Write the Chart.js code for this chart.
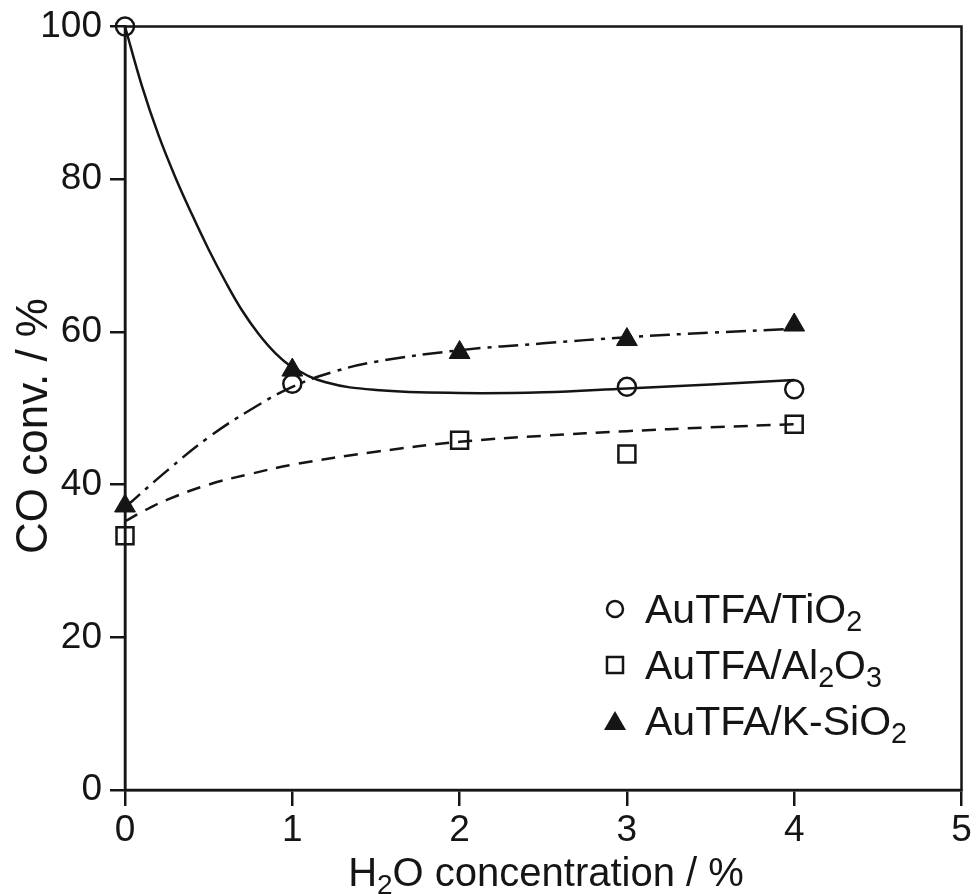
<!DOCTYPE html>
<html>
<head>
<meta charset="utf-8">
<script src="https://cdn.jsdelivr.net/npm/chart.js@4.4.0/dist/chart.umd.min.js"></script>
<style>
  html, body { margin: 0; padding: 0; background: #ffffff; }
  #wrap { width: 976px; height: 894px; }
</style>
</head>
<body>
<div id="wrap"><canvas id="mainChart" width="976" height="894"></canvas></div>
<script>
// measured points
const xPoints = [0, 1, 2, 3, 4];
const tio2 = [100, 53.2, null, 52.8, 52.5];
const al2o3 = [33.3, null, 45.8, 44.0, 47.9];
const ksio2 = [37.2, 55.0, 57.3, 59.0, 60.9];

// fitted curves
const tio2FitX = [0, 0.1, 0.2, 0.3, 0.4, 0.5, 0.6, 0.7, 0.8, 0.9, 1.0, 1.2, 1.5, 2.0, 2.5, 3.0, 3.5, 4.0];
const tio2FitY = [100, 92.3, 85.8, 80.3, 75.4, 70.8, 66.6, 62.8, 59.7, 57.2, 55.4, 53.4, 52.4, 52.0, 52.1, 52.6, 53.1, 53.7];
const al2o3FitX = [0, 0.1, 0.25, 0.5, 0.75, 1.0, 1.5, 2.0, 2.5, 3.0, 3.5, 4.0];
const al2o3FitY = [35.2, 36.4, 38.0, 40.0, 41.4, 42.6, 44.3, 45.6, 46.4, 47.0, 47.5, 47.9];
const ksio2FitX = [0, 0.25, 0.5, 0.75, 1.0, 1.25, 1.5, 2.0, 2.5, 3.0, 3.5, 4.0];
const ksio2FitY = [37.0, 41.8, 46.2, 49.8, 52.8, 54.8, 56.1, 57.6, 58.5, 59.3, 59.9, 60.4];

const xTicks = [0, 1, 2, 3, 4, 5];
const yTicks = [0, 20, 40, 60, 80, 100];

const legendItems = [
    { style: 'circle', parts: [['AuTFA/TiO'], ['2', true]] },
    { style: 'rect', parts: [['AuTFA/Al'], ['2', true], ['O'], ['3', true]] },
    { style: 'triangle', parts: [['AuTFA/K-SiO'], ['2', true]] }
];

const FONT = "'Liberation Sans', Arial, sans-serif";
const INK = '#151515';

// tick labels in the picture use a narrow face; use it if installed
function hasFont(name) {
    const c = document.createElement('canvas').getContext('2d');
    c.font = '40px monospace';
    const base = c.measureText('100 AuTFA').width;
    c.font = "40px '" + name + "', monospace";
    return c.measureText('100 AuTFA').width !== base;
}
const narrow = hasFont('Liberation Sans Narrow');
const TICK_FONT = narrow ? "'Liberation Sans Narrow', 'Liberation Sans', sans-serif" : FONT;
const TICK_SIZE = narrow ? 42 : 37;

const pairs = (xs, ys) => xs.map((x, i) => ({ x: x, y: ys[i] })).filter(p => p.y !== null);

function drawParts(ctx, parts, x, y, size, align) {
    let total = 0;
    parts.forEach(p => {
        ctx.font = (p[1] ? size * 0.7 : size) + 'px ' + FONT;
        total += ctx.measureText(p[0]).width;
    });
    let cx = align === 'center' ? x - total / 2 : x;
    parts.forEach(p => {
        ctx.font = (p[1] ? size * 0.7 : size) + 'px ' + FONT;
        ctx.fillText(p[0], cx, p[1] ? y + size * 0.2 : y);
        cx += ctx.measureText(p[0]).width;
    });
}

const decor = {
    id: 'decor',
    afterDraw(chart) {
        const ctx = chart.ctx;
        const a = chart.chartArea;
        ctx.save();
        // frame
        ctx.strokeStyle = INK;
        ctx.lineWidth = 2.5;
        ctx.strokeRect(a.left, a.top, a.right - a.left, a.bottom - a.top);

        ctx.fillStyle = INK;
        ctx.textBaseline = 'alphabetic';
        ctx.textAlign = 'left';
        // x title
        drawParts(ctx, [['H'], ['2', true], ['O concentration / %']], 546, 886, 40, 'center');

        // y title
        ctx.save();
        ctx.translate(47, 426);
        ctx.rotate(-Math.PI / 2);
        ctx.font = '44px ' + FONT;
        ctx.textAlign = 'center';
        ctx.fillText('CO conv. / %', 0, 0);
        ctx.restore();

        // legend
        legendItems.forEach((item, i) => {
            const cy = 609 + i * 56;
            const mx = 615;
            ctx.lineWidth = 2.5;
            ctx.strokeStyle = INK;
            ctx.beginPath();
            if (item.style === 'circle') {
                ctx.arc(mx, cy, 8, 0, Math.PI * 2);
                ctx.stroke();
            } else if (item.style === 'rect') {
                ctx.rect(mx - 8, cy - 8, 16, 16);
                ctx.stroke();
            } else {
                ctx.moveTo(mx, cy - 10);
                ctx.lineTo(mx + 11, cy + 9);
                ctx.lineTo(mx - 11, cy + 9);
                ctx.closePath();
                ctx.fill();
            }
            ctx.textAlign = 'left';
            drawParts(ctx, item.parts, 645, cy + 14, 41, 'left');
        });
        ctx.restore();
    }
};

const ctx = document.getElementById('mainChart').getContext('2d');

new Chart(ctx, {
    type: 'scatter',
    data: {
        datasets: [
            {
                type: 'line',
                data: pairs(tio2FitX, tio2FitY),
                borderColor: INK,
                borderWidth: 2.5,
                pointRadius: 0,
                tension: 0.4,
                fill: false,
                clip: false
            },
            {
                type: 'line',
                data: pairs(al2o3FitX, al2o3FitY),
                borderColor: INK,
                borderWidth: 2.5,
                borderDash: [14, 9],
                pointRadius: 0,
                tension: 0.4,
                fill: false,
                clip: false
            },
            {
                type: 'line',
                data: pairs(ksio2FitX, ksio2FitY),
                borderColor: INK,
                borderWidth: 2.5,
                borderDash: [20, 7, 4, 7],
                pointRadius: 0,
                tension: 0.4,
                fill: false,
                clip: false
            },
            {
                data: pairs(xPoints, tio2),
                pointStyle: 'circle',
                pointRadius: 9,
                backgroundColor: 'rgba(255,255,255,0)',
                borderColor: INK,
                borderWidth: 2.5,
                clip: false
            },
            {
                data: pairs(xPoints, al2o3),
                pointStyle: 'rect',
                pointRadius: 12,
                backgroundColor: 'rgba(255,255,255,0)',
                borderColor: INK,
                borderWidth: 2.5,
                clip: false
            },
            {
                data: pairs(xPoints, ksio2),
                pointStyle: 'triangle',
                pointRadius: 12,
                backgroundColor: INK,
                borderColor: INK,
                borderWidth: 1,
                clip: false
            }
        ]
    },
    options: {
        responsive: false,
        animation: false,
        layout: { padding: { top: 25, right: 13, left: 0, bottom: 0 } },
        plugins: {
            legend: { display: false },
            tooltip: { enabled: false }
        },
        scales: {
            x: {
                type: 'linear',
                min: 0,
                max: 5,
                afterFit: (axis) => {
                    axis.height = 104;
                    axis.paddingRight = 0;
                },
                afterBuildTicks: (axis) => { axis.ticks = xTicks.map(v => ({ value: v })); },
                grid: {
                    display: true,
                    drawOnChartArea: false,
                    drawTicks: true,
                    tickLength: 16,
                    color: INK,
                    lineWidth: 2.5
                },
                border: { display: true, color: INK, width: 2.5 },
                ticks: {
                    color: INK,
                    padding: 6,
                    font: { size: TICK_SIZE, family: TICK_FONT, lineHeight: 1.0 }
                }
            },
            y: {
                type: 'linear',
                min: 0,
                max: 100,
                afterFit: (axis) => { axis.width = 125; },
                afterBuildTicks: (axis) => { axis.ticks = yTicks.map(v => ({ value: v })); },
                grid: {
                    display: true,
                    drawOnChartArea: false,
                    drawTicks: true,
                    tickLength: 15,
                    color: INK,
                    lineWidth: 2.5
                },
                border: { display: true, color: INK, width: 2.5 },
                ticks: {
                    color: INK,
                    padding: 8,
                    font: { size: TICK_SIZE, family: TICK_FONT, lineHeight: 1.0 }
                }
            }
        }
    },
    plugins: [decor]
});
</script>
</body>
</html>
